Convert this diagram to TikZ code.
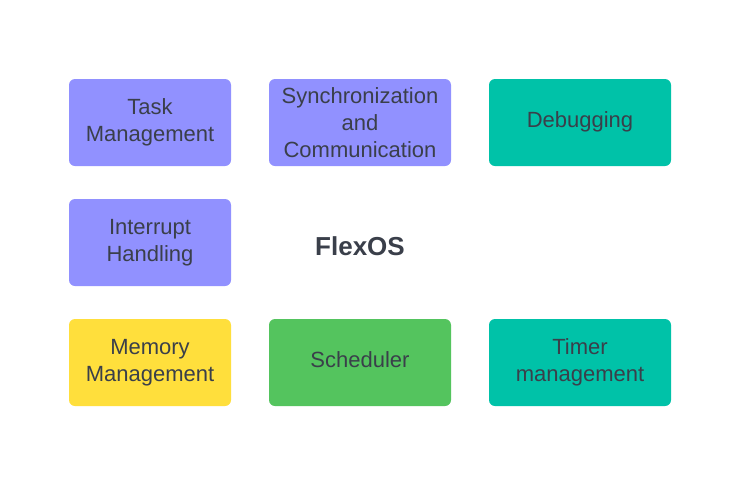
\documentclass[tikz,border=0pt]{standalone}
\usepackage{fontspec}
\setmainfont{Liberation Sans}
\usetikzlibrary{positioning}
\definecolor{flexLavender}{HTML}{9191FF}
\definecolor{flexTeal}{HTML}{00C2A8}
\definecolor{flexYellow}{HTML}{FFDF3C}
\definecolor{flexGreen}{HTML}{54C45E}
\definecolor{flexText}{HTML}{3A3F4A}

\begin{document}
\begin{tikzpicture}[x=0.75pt,y=-0.75pt,
 module/.style={rounded corners=4.5pt,draw=none,text=flexText,font=\fontsize{16.5}{20.25}\selectfont,align=center,minimum height=65.25pt,minimum width=136.5pt,inner sep=0pt},
 narrow/.style={minimum width=121.5pt},
 oneline/.style={text height=12pt,text depth=4pt},
 core/.style={text=flexText,font=\bfseries\fontsize{19.5}{23}\selectfont,align=center}
]
\useasboundingbox[fill=white] (0,0) rectangle (740,480);

\node[module,narrow,fill=flexLavender] (task) at (150,122.5) {Task\\Management};
\node[module,fill=flexLavender] (sync) at (360,122.5) {Synchronization\\and\\Communication};
\node[module,oneline,fill=flexTeal] (debug) at (580,122.5) {Debugging};

\node[module,narrow,fill=flexLavender] (irq) at (150,242.5) {Interrupt\\Handling};
\node[core] (flexos) at (360,246) {FlexOS};

\node[module,narrow,fill=flexYellow] (mem) at (150,362.5) {Memory\\Management};
\node[module,oneline,fill=flexGreen] (sched) at (360,362.5) {Scheduler};
\node[module,fill=flexTeal] (timer) at (580,362.5) {Timer\\management};
\end{tikzpicture}
\end{document}
